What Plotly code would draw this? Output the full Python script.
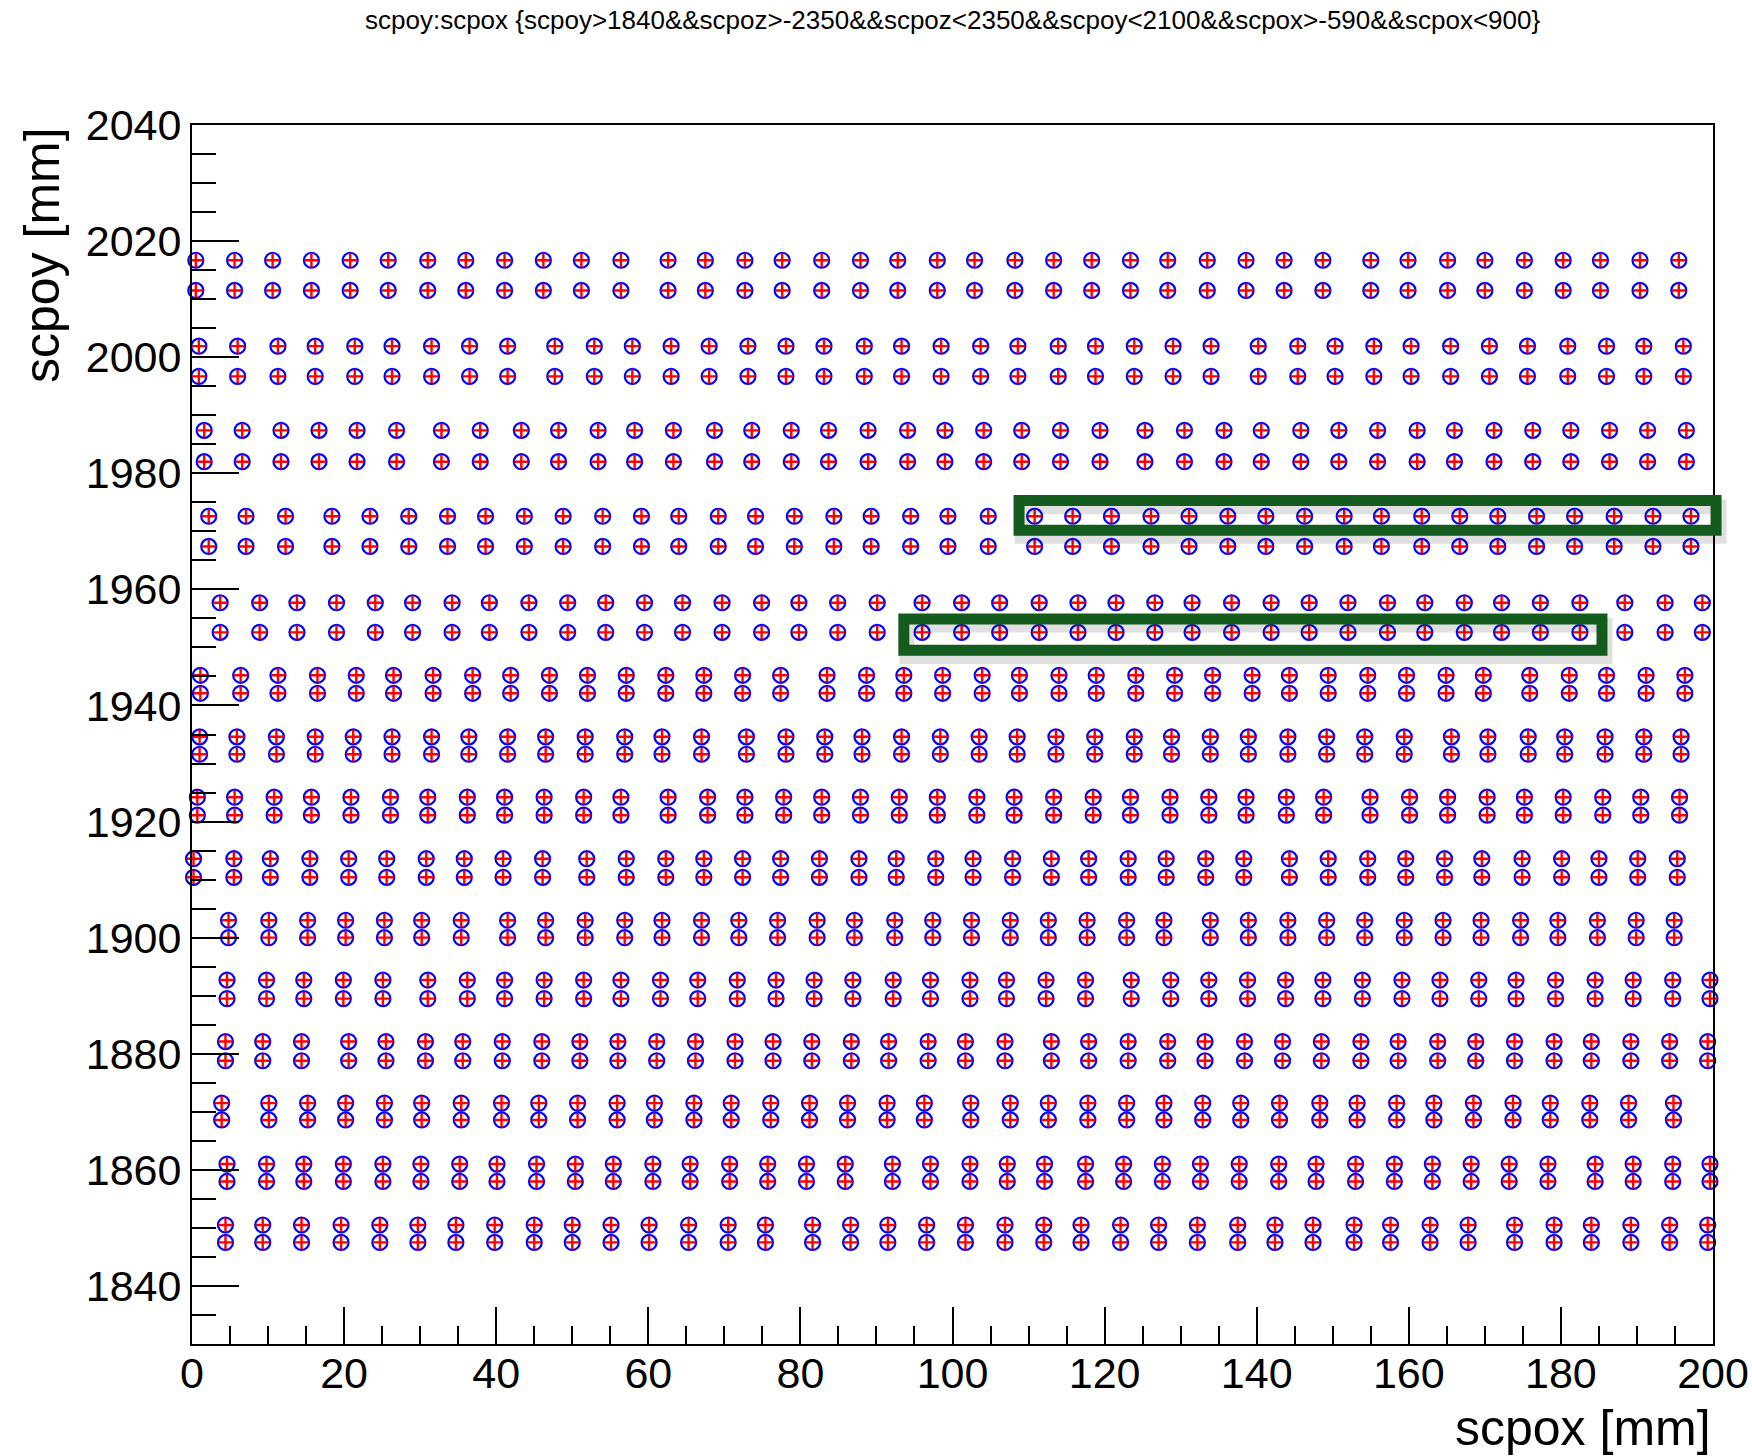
import plotly.graph_objects as go

# ---------------- data ----------------
# y positions (mm) of each pair of rows: upper row, lower row
pair_y_upper = [2016.7, 2001.9, 1987.4, 1972.6, 1957.7, 1945.2, 1934.6, 1924.2,
                1913.6, 1903.0, 1892.7, 1882.1, 1871.5, 1861.0, 1850.5]
pair_y_lower = [2011.5, 1996.7, 1982.0, 1967.4, 1952.6, 1942.1, 1931.6, 1921.1,
                1910.4, 1900.0, 1889.5, 1878.8, 1868.6, 1858.0, 1847.5]

# x positions (mm) shared by both rows of a pair
xs_A = [0.5, 5.6, 10.6, 15.7, 20.8, 25.8, 31.0, 36.0, 41.1, 46.2, 51.2, 56.4, 62.6, 67.5, 72.7, 77.6,
        82.8, 87.9, 92.8, 98.0, 102.9, 108.2, 113.3, 118.3, 123.4, 128.3, 133.5, 138.6, 143.6, 148.7,
        155.0, 159.9, 165.1, 170.0, 175.2, 180.3, 185.2, 190.4, 195.5]
xs_B = [0.9, 6.0, 11.3, 16.2, 21.4, 26.3, 31.5, 36.5, 41.5, 47.7, 52.9, 57.9, 63.0, 68.0, 73.1, 78.1,
        83.1, 88.4, 93.3, 98.5, 103.7, 108.6, 113.9, 118.8, 123.9, 129.0, 134.0, 140.2, 145.4, 150.3,
        155.4, 160.3, 165.5, 170.6, 175.6, 180.9, 186.0, 190.9, 196.1]
xs_C = [1.6, 6.6, 11.7, 16.7, 21.7, 26.9, 32.8, 37.9, 43.3, 48.2, 53.4, 58.2, 63.3, 68.7, 73.6, 78.8,
        83.7, 88.9, 94.1, 99.0, 104.1, 109.1, 114.2, 119.4, 125.3, 130.5, 135.7, 140.6, 145.8, 150.8,
        155.9, 161.1, 166.0, 171.2, 176.3, 181.3, 186.4, 191.4, 196.5]
xs_D = [2.2, 7.1, 12.3, 18.4, 23.4, 28.5, 33.6, 38.6, 43.7, 48.8, 54.0, 59.1, 64.0, 69.2, 74.1, 79.2,
        84.4, 89.3, 94.5, 99.4, 104.7, 110.8, 115.8, 120.9, 126.1, 131.1, 136.2, 141.2, 146.3, 151.5,
        156.4, 161.7, 166.7, 171.7, 176.8, 181.8, 187.0, 192.1, 197.1]
xs_E = [3.7, 8.9, 13.8, 19.0, 24.1, 29.0, 34.2, 39.1, 44.3, 49.4, 54.4, 59.5, 64.5, 69.7, 74.9, 79.8,
        84.9, 90.1, 96.0, 101.2, 106.2, 111.4, 116.5, 121.5, 126.6, 131.5, 136.7, 141.9, 146.9, 152.0,
        157.2, 162.1, 167.3, 172.2, 177.3, 182.5, 188.4, 193.7, 198.6]
xs_F = [1.1, 6.4, 11.3, 16.5, 21.6, 26.5, 31.7, 36.9, 41.9, 47.0, 52.0, 57.1, 62.3, 67.3, 72.4, 77.4,
        83.5, 88.7, 93.6, 98.7, 103.9, 108.8, 114.0, 118.9, 124.1, 129.2, 134.2, 139.4, 144.3, 149.4,
        154.6, 159.7, 164.9, 169.8, 175.9, 181.1, 186.0, 191.2, 196.3]
xs_G = [1.0, 5.9, 11.1, 16.2, 21.2, 26.3, 31.5, 36.4, 41.5, 46.5, 51.7, 56.9, 61.8, 67.0, 72.9, 78.1,
        83.2, 88.1, 93.3, 98.4, 103.5, 108.5, 113.6, 118.7, 123.9, 128.8, 133.9, 138.9, 144.1, 149.2,
        154.2, 159.4, 165.6, 170.4, 175.7, 180.5, 185.8, 190.9, 195.8]
xs_H = [0.7, 5.6, 10.8, 15.7, 20.9, 26.1, 31.0, 36.2, 41.1, 46.3, 51.5, 56.4, 62.6, 67.8, 72.7, 77.8,
        82.8, 87.9, 93.0, 98.0, 103.2, 108.1, 113.3, 118.5, 123.4, 128.6, 133.7, 138.6, 143.9, 148.8,
        154.9, 160.1, 165.1, 170.3, 175.2, 180.3, 185.5, 190.5, 195.6]
xs_I = [0.2, 5.5, 10.3, 15.5, 20.6, 25.6, 30.8, 35.8, 40.9, 46.1, 51.9, 57.1, 62.3, 67.3, 72.4, 77.4,
        82.5, 87.7, 92.6, 97.8, 102.7, 107.9, 113.0, 117.9, 123.1, 128.1, 133.3, 138.3, 144.3, 149.4,
        154.6, 159.6, 164.7, 169.6, 174.9, 180.1, 185.0, 190.1, 195.3]
xs_J = [4.8, 10.1, 15.2, 20.2, 25.3, 30.2, 35.4, 41.5, 46.5, 51.7, 56.9, 61.8, 67.0, 71.9, 77.0, 82.2,
        87.1, 92.4, 97.4, 102.5, 107.6, 112.6, 117.7, 122.9, 127.8, 133.9, 138.9, 144.1, 149.2, 154.2,
        159.4, 164.5, 169.5, 174.7, 179.6, 184.8, 189.9, 194.9]
xs_K = [4.6, 9.8, 14.7, 19.9, 25.1, 31.0, 36.2, 41.1, 46.3, 51.5, 56.4, 61.6, 66.5, 71.7, 76.8, 81.8,
        86.9, 92.2, 97.1, 102.3, 107.1, 112.3, 117.5, 123.5, 128.7, 133.7, 138.8, 143.8, 148.7, 153.9,
        159.1, 164.1, 169.2, 174.1, 179.3, 184.5, 189.5, 194.7, 199.6]
xs_L = [4.4, 9.3, 14.4, 20.6, 25.5, 30.7, 35.6, 40.8, 46.0, 51.0, 56.0, 61.1, 66.2, 71.4, 76.4, 81.5,
        86.7, 91.6, 96.8, 101.7, 106.9, 113.0, 117.9, 123.1, 128.3, 133.2, 138.4, 143.4, 148.5, 153.7,
        158.6, 163.8, 168.8, 173.9, 179.1, 184.0, 189.2, 194.3, 199.3]
xs_M = [3.9, 10.1, 15.2, 20.2, 25.3, 30.2, 35.4, 40.7, 45.6, 50.7, 55.9, 60.8, 66.0, 70.9, 76.1, 81.2,
        86.2, 91.4, 96.3, 102.4, 107.6, 112.6, 117.8, 122.9, 127.8, 132.9, 137.9, 143.0, 148.3, 153.2,
        158.4, 163.3, 168.5, 173.7, 178.6, 183.8, 188.9, 194.8]
xs_N = [4.6, 9.8, 14.7, 19.9, 25.1, 30.1, 35.2, 40.1, 45.3, 50.4, 55.4, 60.6, 65.5, 70.7, 75.7, 80.8,
        85.9, 92.1, 97.1, 102.3, 107.2, 112.1, 117.5, 122.5, 127.6, 132.6, 137.7, 142.9, 147.8, 153.0,
        158.1, 163.1, 168.2, 173.2, 178.3, 184.5, 189.5, 194.7, 199.6]
xs_O = [4.4, 9.3, 14.4, 19.6, 24.7, 29.7, 34.7, 39.8, 45.0, 50.0, 55.1, 60.1, 65.3, 70.5, 75.4, 81.6,
        86.6, 91.5, 96.6, 101.7, 106.9, 112.0, 116.9, 122.1, 127.1, 132.2, 137.5, 142.4, 147.4, 152.8,
        157.6, 162.8, 167.8, 173.9, 179.1, 184.0, 189.2, 194.3, 199.3]

pair_xs = [xs_A, xs_B, xs_C, xs_D, xs_E, xs_F, xs_G, xs_H, xs_I, xs_J, xs_K, xs_L, xs_M, xs_N, xs_O]

# highlighted (hand-drawn) boxes, in data units: x0, x1, y_bottom, y_top
box1 = [108.75, 200.4, 1970.2, 1975.3]
box2 = [93.6, 185.4, 1949.5, 1954.9]

x_ticks = [0, 20, 40, 60, 80, 100, 120, 140, 160, 180, 200]
y_ticks = [1840, 1860, 1880, 1900, 1920, 1940, 1960, 1980, 2000, 2020, 2040]

title_text = "scpoy:scpox {scpoy>1840&&scpoz>-2350&&scpoz<2350&&scpoy<2100&&scpox>-590&&scpox<900}"
x_title = "scpox [mm]"
y_title = "scpoy [mm]"

X_RANGE = [0, 200]
Y_RANGE = [1830, 2040]

# ---------------- build ----------------
all_x, all_y = [], []
for yu, yl, xs in zip(pair_y_upper, pair_y_lower, pair_xs):
    for yv in (yu, yl):
        all_x.extend(xs)
        all_y.extend([yv] * len(xs))

FONT = "Liberation Sans, Arial, Helvetica, sans-serif"

fig = go.Figure()
fig.add_trace(go.Scatter(
    x=all_x, y=all_y, mode="markers", cliponaxis=False, showlegend=False,
    marker=dict(symbol="circle-open", size=15, color="#0000ff",
                line=dict(width=2.2, color="#0000ff"))))
fig.add_trace(go.Scatter(
    x=all_x, y=all_y, mode="markers", cliponaxis=False, showlegend=False,
    marker=dict(symbol="cross-thin", size=10, color="#ff0000",
                line=dict(width=2.4, color="#ff0000"))))


def to_px(xv, yv):
    px = (xv - X_RANGE[0]) / (X_RANGE[1] - X_RANGE[0])
    py = (yv - Y_RANGE[0]) / (Y_RANGE[1] - Y_RANGE[0])
    return px, py


shapes = []
for b in (box1, box2):
    x0, y0 = to_px(b[0], b[2])
    x1, y1 = to_px(b[1], b[3])
    # soft shadow
    shapes.append(dict(type="rect", xref="paper", yref="paper",
                       x0=x0 + 0.002, x1=x1 + 0.002, y0=y0 - 0.005, y1=y1 - 0.005,
                       line=dict(color="rgba(0,0,0,0.12)", width=15), layer="above"))
    shapes.append(dict(type="rect", xref="paper", yref="paper",
                       x0=x0, x1=x1, y0=y0, y1=y1,
                       line=dict(color="#145c1d", width=11), layer="above"))

axis_common = dict(showline=True, linecolor="black", linewidth=2, mirror=True,
                   ticks="inside", tickcolor="black", tickwidth=2,
                   showgrid=False, zeroline=False, automargin=False,
                   tickfont=dict(family=FONT, size=43, color="black"))

fig.update_layout(
    width=1752, height=1456,
    margin=dict(l=192, r=39, t=125, b=112, autoexpand=False),
    paper_bgcolor="white", plot_bgcolor="white",
    shapes=shapes,
    xaxis=dict(range=X_RANGE, tickvals=x_ticks, ticklen=37, ticklabelstandoff=-10,
               minor=dict(ticks="inside", dtick=5, ticklen=18, tickcolor="black",
                          tickwidth=2, showgrid=False),
               **axis_common),
    yaxis=dict(range=Y_RANGE, tickvals=y_ticks, ticklen=47,
               minor=dict(ticks="inside", dtick=5, ticklen=24, tickcolor="black",
                          tickwidth=2, showgrid=False),
               **axis_common),
    annotations=[
        dict(text=title_text, xref="paper", yref="paper", x=0.5, y=1 + 105 / 1219,
             xanchor="center", yanchor="middle", showarrow=False,
             font=dict(family=FONT, size=26, color="black")),
        dict(text=x_title, xref="paper", yref="paper", x=1.0, y=-84 / 1219,
             xanchor="right", yanchor="middle", showarrow=False,
             font=dict(family=FONT, size=50, color="black")),
        dict(text=y_title, xref="paper", yref="paper", x=-150 / 1521, y=1.0,
             xanchor="center", yanchor="top", textangle=-90, showarrow=False,
             font=dict(family=FONT, size=50, color="black")),
    ],
)

fig.write_html("out.html")
